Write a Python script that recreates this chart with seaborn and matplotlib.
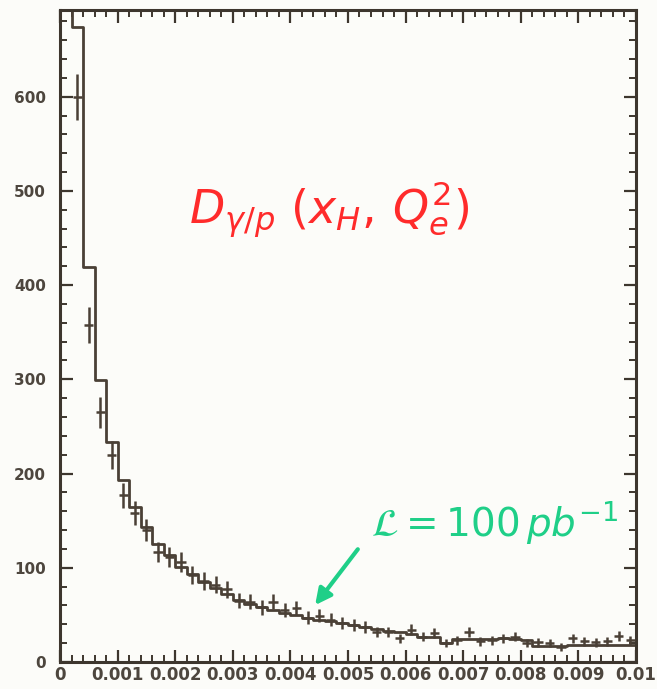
import numpy as np
import pandas as pd
import matplotlib
matplotlib.use("Agg")
import matplotlib.pyplot as plt
import seaborn as sns

# ---- data ----
bin_edges_lo = 0.0
bin_width = 0.0002
n_bins = 50
mc_counts = [1000, 674, 419, 299, 233, 193, 165, 143, 125, 114,
             101, 93, 85, 79, 72, 66, 62, 58, 55, 52,
             50, 47, 45, 43, 41, 39, 37, 35, 33, 32,
             30, 27, 26, 20, 24, 24, 24, 24, 25, 24,
             23, 17, 17, 17, 18, 18, 18, 18, 18, 18]
data_counts = [950, 600, 358, 265, 220, 177, 158, 140, 117, 111,
               106, 92, 86, 82, 77, 65, 64, 58, 64, 55,
               57, 47, 49, 45, 41, 39, 37, 32, 32, 25,
               34, 27, 31, 20, 23, 32, 22, 23, 25, 27,
               20, 21, 20, 16, 25, 22, 21, 22, 28, 23]
x_ticks = [0, 0.001, 0.002, 0.003, 0.004, 0.005, 0.006, 0.007, 0.008, 0.009, 0.01]
x_tick_labels = ["0", "0.001", "0.002", "0.003", "0.004", "0.005", "0.006",
                 "0.007", "0.008", "0.009", "0.01"]
y_ticks = [0, 100, 200, 300, 400, 500, 600]
title_text = r"$D_{\gamma/p}\ (x_H,\, Q_e^{2})$"
lumi_text = r"$\mathcal{L} = 100\,pb^{-1}$"

edges = bin_edges_lo + bin_width * np.arange(n_bins + 1)
centers = 0.5 * (edges[:-1] + edges[1:])
df = pd.DataFrame({"x": centers, "mc": mc_counts, "data": data_counts})

sns.set_theme(style="white")
plt.rcParams["font.family"] = ["DejaVu Sans"]

ink = "#3d362e"
bg = "#fcfcf9"
fig = plt.figure(figsize=(6.57, 6.89), dpi=100, facecolor=bg)
ax = fig.add_axes([0.0913, 0.0392, 0.8767, 0.9463])
ax.set_facecolor(bg)

sns.histplot(data=df, x="x", weights="mc", bins=[float(e) for e in edges],
             element="step", fill=False, color="#4a4036", linewidth=2.0, ax=ax)

err = np.sqrt(df["data"].values)
ax.errorbar(df["x"], df["data"], yerr=err, xerr=0.00008, fmt="none",
            ecolor="#4a4036", elinewidth=1.8, capsize=0, zorder=3)

ax.set_xlim(0, 0.01)
ax.set_ylim(0, 692)
ax.set_xlabel("")
ax.set_ylabel("")
ax.set_xticks(x_ticks)
ax.set_xticklabels(x_tick_labels)
ax.set_yticks(y_ticks)
ax.set_xticks(np.arange(0, 0.01 + 1e-9, 0.0002), minor=True)
ax.set_yticks(np.arange(0, 692, 20), minor=True)

for s in ax.spines.values():
    s.set_color(ink)
    s.set_linewidth(2.2)
    s.set_visible(True)

ax.tick_params(which="both", direction="in", top=True, right=True,
               bottom=True, left=True, color=ink)
ax.tick_params(which="major", length=9, width=1.6)
ax.tick_params(which="minor", length=5, width=1.4)
ax.tick_params(axis="x", labelsize=12, labelcolor="#4d463e", pad=3)
ax.tick_params(axis="y", labelsize=11, labelcolor="#4d463e", pad=10)
for lab in ax.get_xticklabels() + ax.get_yticklabels():
    lab.set_fontweight("bold")

ax.text(0.00467, 480, title_text, color="#ff2b2b", fontsize=33,
        ha="center", va="center")
ax.text(0.00755, 148, lumi_text, color="#1fcf88", fontsize=28,
        ha="center", va="center")
ax.annotate("", xy=(0.0044, 58), xytext=(0.0052, 122),
            arrowprops=dict(arrowstyle="-|>,head_length=0.8,head_width=0.4",
                            color="#1fcf88", lw=3))

fig.savefig("out.png", dpi=100, facecolor=bg)
